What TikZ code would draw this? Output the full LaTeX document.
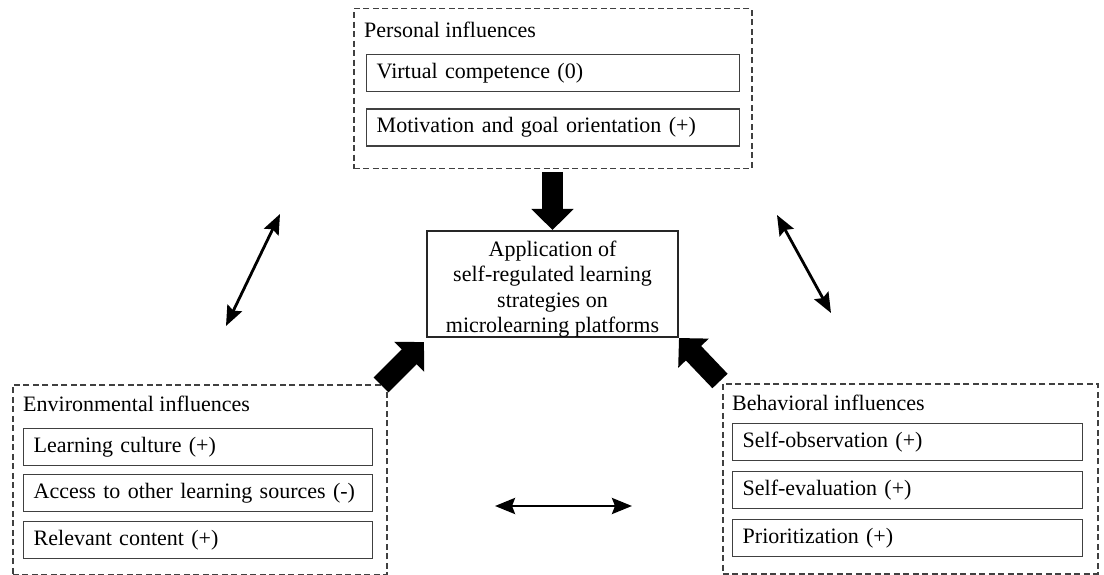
\documentclass[tikz,border=0pt]{standalone}
\usepackage{fontspec}
\setmainfont{Liberation Serif}
\usetikzlibrary{arrows.meta}
\begin{document}
\begin{tikzpicture}[x=1pt,y=-1pt,
  txt/.style={font=\fontsize{22}{25.5}\selectfont, inner sep=0pt},
  group/.style={draw=black!75, line width=1.5pt, dash pattern=on 6pt off 3.5pt, anchor=north west, inner sep=0pt},
  item/.style={draw=black!75, line width=1.4pt, anchor=north west, inner xsep=10pt, inner ysep=0pt,
    align=left, font=\fontsize{22}{25.5}\selectfont, minimum height=37pt, text width=#1},
  centerbox/.style={draw=black!85, line width=1.4pt, inner sep=0pt},
  thickarrow/.style={line width=21pt, -{Triangle[length=21pt,width=41pt]}},
  twoway/.style={line width=2.8pt, {Stealth[length=20pt,width=16pt,inset=3pt]}-{Stealth[length=20pt,width=16pt,inset=3pt]}}
]
\useasboundingbox (0,0) rectangle (1104,575);

% Personal influences
\node[group, minimum width=398pt, minimum height=160pt] (pers) at (353,8) {};
\node[txt, anchor=base west] (perst) at (364,38) {Personal influences};
\node[item=353pt] (p1) at (366,54) {Virtual competence (0)};
\node[item=353pt] (p2) at (366,108.5) {Motivation and goal orientation (+)};

% Environmental influences
\node[group, minimum width=374pt, minimum height=190pt] (env) at (12,384) {};
\node[txt, anchor=base west] (envt) at (23,411) {Environmental influences};
\node[item=329pt] (e1) at (23,428) {Learning culture (+)};
\node[item=329pt] (e2) at (23,474) {Access to other learning sources (-)};
\node[item=329pt] (e3) at (23,521) {Relevant content (+)};

% Behavioral influences
\node[group, minimum width=375pt, minimum height=190pt] (beh) at (722,383) {};
\node[txt, anchor=base west] (beht) at (732,410) {Behavioral influences};
\node[item=330pt] (b1) at (732,423) {Self-observation (+)};
\node[item=330pt] (b2) at (732,471) {Self-evaluation (+)};
\node[item=330pt] (b3) at (732,519) {Prioritization (+)};

% Center
\node[centerbox, minimum width=251pt, minimum height=106pt] (app) at (552.5,284) {};
\node[txt, align=center] (apptext) at (552.5,289) {Application of\\self-regulated learning\\strategies on\\microlearning platforms};

% Thick arrows
\coordinate (pa) at (552.5,172);
\coordinate (pt) at (552.5,230);
\draw[thickarrow] (pa) -- (pt);
\coordinate (ea) at (381,385);
\coordinate (et) at (424,342);
\draw[thickarrow] (ea) -- (et);
\coordinate (ba) at (720,381);
\coordinate (bt) at (679,338);
\draw[thickarrow] (ba) -- (bt);

% Two-way arrows
\coordinate (l1) at (280,214);
\coordinate (l2) at (226,326);
\draw[twoway] (l1) -- (l2);
\coordinate (r1) at (777,215);
\coordinate (r2) at (831,313);
\draw[twoway] (r1) -- (r2);
\coordinate (h1) at (495,506);
\coordinate (h2) at (632,506);
\draw[twoway] (h1) -- (h2);
\end{tikzpicture}
\end{document}
